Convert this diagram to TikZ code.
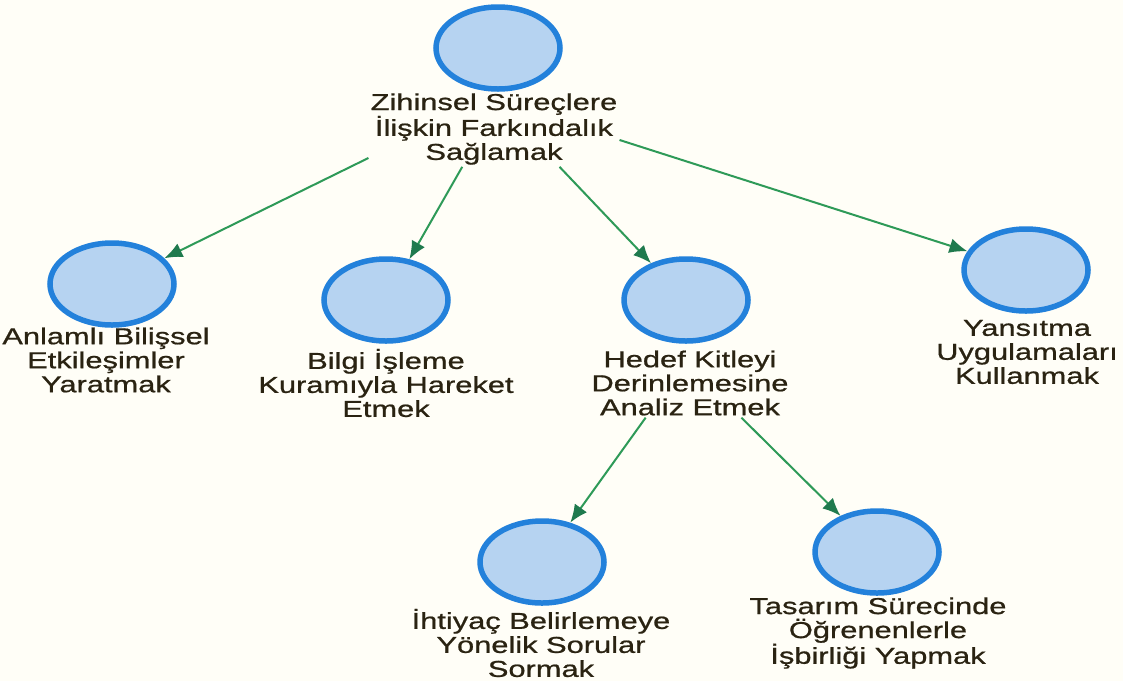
\documentclass[tikz,border=0pt]{standalone}
\usepackage{fontspec}
\setmainfont{Liberation Sans}
\newfontfamily\lblfont[FakeStretch=1.34,FakeBold=0.8]{Liberation Sans}
\usetikzlibrary{shapes.geometric,arrows.meta}
\definecolor{bgcol}{HTML}{FFFEF7}
\definecolor{ringcol}{HTML}{2381DB}
\definecolor{discfill}{HTML}{B6D3F1}
\definecolor{linkcol}{HTML}{2E9A58}
\definecolor{tipcol}{HTML}{1F7A4E}
\definecolor{txtcol}{HTML}{2A2312}
\tikzset{
  concept/.style={ellipse, draw=ringcol, fill=discfill, line width=5.5pt,
    minimum width=124pt, minimum height=82pt, inner sep=0pt},
  caption/.style={align=center, text=txtcol, inner sep=2pt,
    font=\lblfont\fontsize{23}{24}\selectfont},
  link/.style={draw=linkcol, line width=2pt,
    -{Latex[length=18pt,width=15pt,fill=tipcol,color=tipcol]}}
}
\begin{document}
\begin{tikzpicture}[x=1pt,y=-1pt]
\fill[bgcol] (0,0) rectangle (1123,681);
\useasboundingbox (0,0) rectangle (1123,681);

% root concept
\node[concept] (root) at (498,48) {};
\node[caption] (rootl) at (494,129) {Zihinsel Süreçlere\\İlişkin Farkındalık\\Sağlamak};

% first level
\node[concept] (anl) at (112,284) {};
\node[caption] (anll) at (106,360) {Anlamlı Bilişsel\\Etkileşimler\\Yaratmak};

\node[concept] (bil) at (386,300) {};
\node[caption] (bill) at (386,383) {Bilgi İşleme\\Kuramıyla Hareket\\Etmek};

\node[concept] (hed) at (686,300) {};
\node[caption] (hedl) at (690,383) {Hedef Kitleyi\\Derinlemesine\\Analiz Etmek};

\node[concept] (yan) at (1026,270) {};
\node[caption] (yanl) at (1027,352) {Yansıtma\\Uygulamaları\\Kullanmak};

% second level
\node[concept] (iht) at (542,562) {};
\node[caption] (ihtl) at (541,643) {İhtiyaç Belirlemeye\\Yönelik Sorular\\Sormak};

\node[concept] (tas) at (877,552) {};
\node[caption] (tasl) at (878,633) {Tasarım Sürecinde\\Öğrenenlerle\\İşbirliği Yapmak};

% connectors
\draw[link] (rootl.193) -- (anl);
\draw[link] (rootl.230) -- (bil);
\draw[link] (rootl.330) -- (hed);
\draw[link] (rootl.355) -- (yan);
\draw[link] (hedl.218) -- (iht);
\draw[link] (hedl.326) -- (tas);
\end{tikzpicture}
\end{document}
